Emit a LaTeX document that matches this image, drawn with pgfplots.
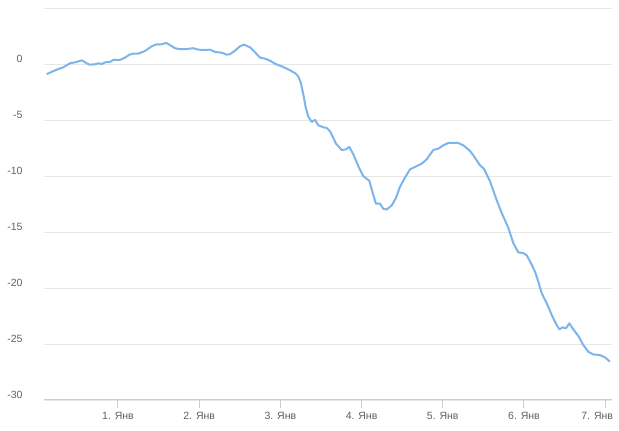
\documentclass[border=0pt]{standalone}
\usepackage{pgfplots}
\pgfplotsset{compat=1.18}
\usepackage{fontspec}
\setmainfont{Liberation Sans}
\definecolor{linecol}{HTML}{7CB5EC}
\definecolor{gridcol}{HTML}{E6E6E6}
\definecolor{axiscol}{HTML}{C0D0E0}
\definecolor{labcol}{HTML}{606060}
\begin{document}
\begin{tikzpicture}
\begin{axis}[
  scale only axis, width=568pt, height=392pt,
  xmin=0.089, xmax=7.084, ymin=-30, ymax=5,
  axis x line*=bottom, axis y line*=left,
  x axis line style={-, draw=axiscol, line width=1pt},
  y axis line style={draw=none},
  ymajorgrids, grid style={draw=gridcol, line width=0.9pt},
  tick align=outside, xtick pos=bottom, ytick pos=left,
  major tick length=8pt,
  xtick style={draw=axiscol, line width=1pt},
  ytick style={draw=none},
  xtick={1,2,3,4,5,6,7},
  xticklabels={1. Янв,2. Янв,3. Янв,4. Янв,5. Янв,6. Янв,{\hspace*{-16pt}7. Янв}},
  ytick={-30,-25,-20,-15,-10,-5,0,5},
  yticklabels={-30,-25,-20,-15,-10,-5,0,},
  ticklabel style={font=\fontsize{10.5}{12}\selectfont, text=labcol},
  yticklabel style={xshift=-10pt, yshift=5pt},
  xticklabel style={yshift=-0.5pt},
]
\addplot[linecol, line width=2pt, line join=round] table {
x y
0.122 -0.90
0.245 -0.51
0.326 -0.30
0.409 0.06
0.491 0.18
0.553 0.33
0.594 0.15
0.647 -0.06
0.717 -0.03
0.757 0.06
0.799 0.00
0.840 0.15
0.901 0.18
0.942 0.36
1.025 0.36
1.086 0.57
1.139 0.83
1.188 0.92
1.250 0.92
1.333 1.16
1.415 1.58
1.477 1.76
1.538 1.76
1.591 1.88
1.640 1.70
1.702 1.41
1.764 1.32
1.846 1.34
1.927 1.41
1.989 1.28
2.071 1.25
2.133 1.28
2.195 1.08
2.277 1.01
2.339 0.83
2.379 0.87
2.441 1.19
2.502 1.58
2.552 1.73
2.626 1.49
2.687 1.05
2.749 0.57
2.810 0.48
2.872 0.30
2.933 0.03
3.016 -0.21
3.097 -0.48
3.180 -0.81
3.220 -1.10
3.250 -1.64
3.282 -2.69
3.312 -3.88
3.344 -4.69
3.385 -5.17
3.426 -4.99
3.467 -5.47
3.528 -5.65
3.570 -5.71
3.611 -6.00
3.685 -7.11
3.755 -7.68
3.808 -7.62
3.849 -7.41
3.898 -8.06
3.959 -9.11
4.021 -10.01
4.095 -10.42
4.137 -11.50
4.177 -12.48
4.227 -12.46
4.267 -12.93
4.309 -12.99
4.371 -12.63
4.424 -11.95
4.473 -10.96
4.534 -10.15
4.596 -9.41
4.679 -9.11
4.740 -8.90
4.802 -8.51
4.883 -7.68
4.945 -7.56
5.006 -7.26
5.068 -7.05
5.190 -7.05
5.252 -7.26
5.326 -7.70
5.376 -8.15
5.458 -9.05
5.507 -9.35
5.581 -10.46
5.664 -12.16
5.725 -13.29
5.807 -14.63
5.868 -15.98
5.930 -16.82
5.991 -16.88
6.035 -17.10
6.074 -17.62
6.135 -18.52
6.176 -19.42
6.218 -20.46
6.280 -21.36
6.341 -22.40
6.403 -23.30
6.435 -23.69
6.477 -23.51
6.517 -23.60
6.558 -23.15
6.607 -23.69
6.669 -24.28
6.730 -25.09
6.792 -25.69
6.853 -25.93
6.936 -25.99
6.998 -26.20
7.059 -26.58
};
\end{axis}
\pgfresetboundingbox
\path ([xshift=-44pt,yshift=-30.2pt]current axis.south west) rectangle ([xshift=7pt,yshift=8pt]current axis.north east);
\end{tikzpicture}
\end{document}
